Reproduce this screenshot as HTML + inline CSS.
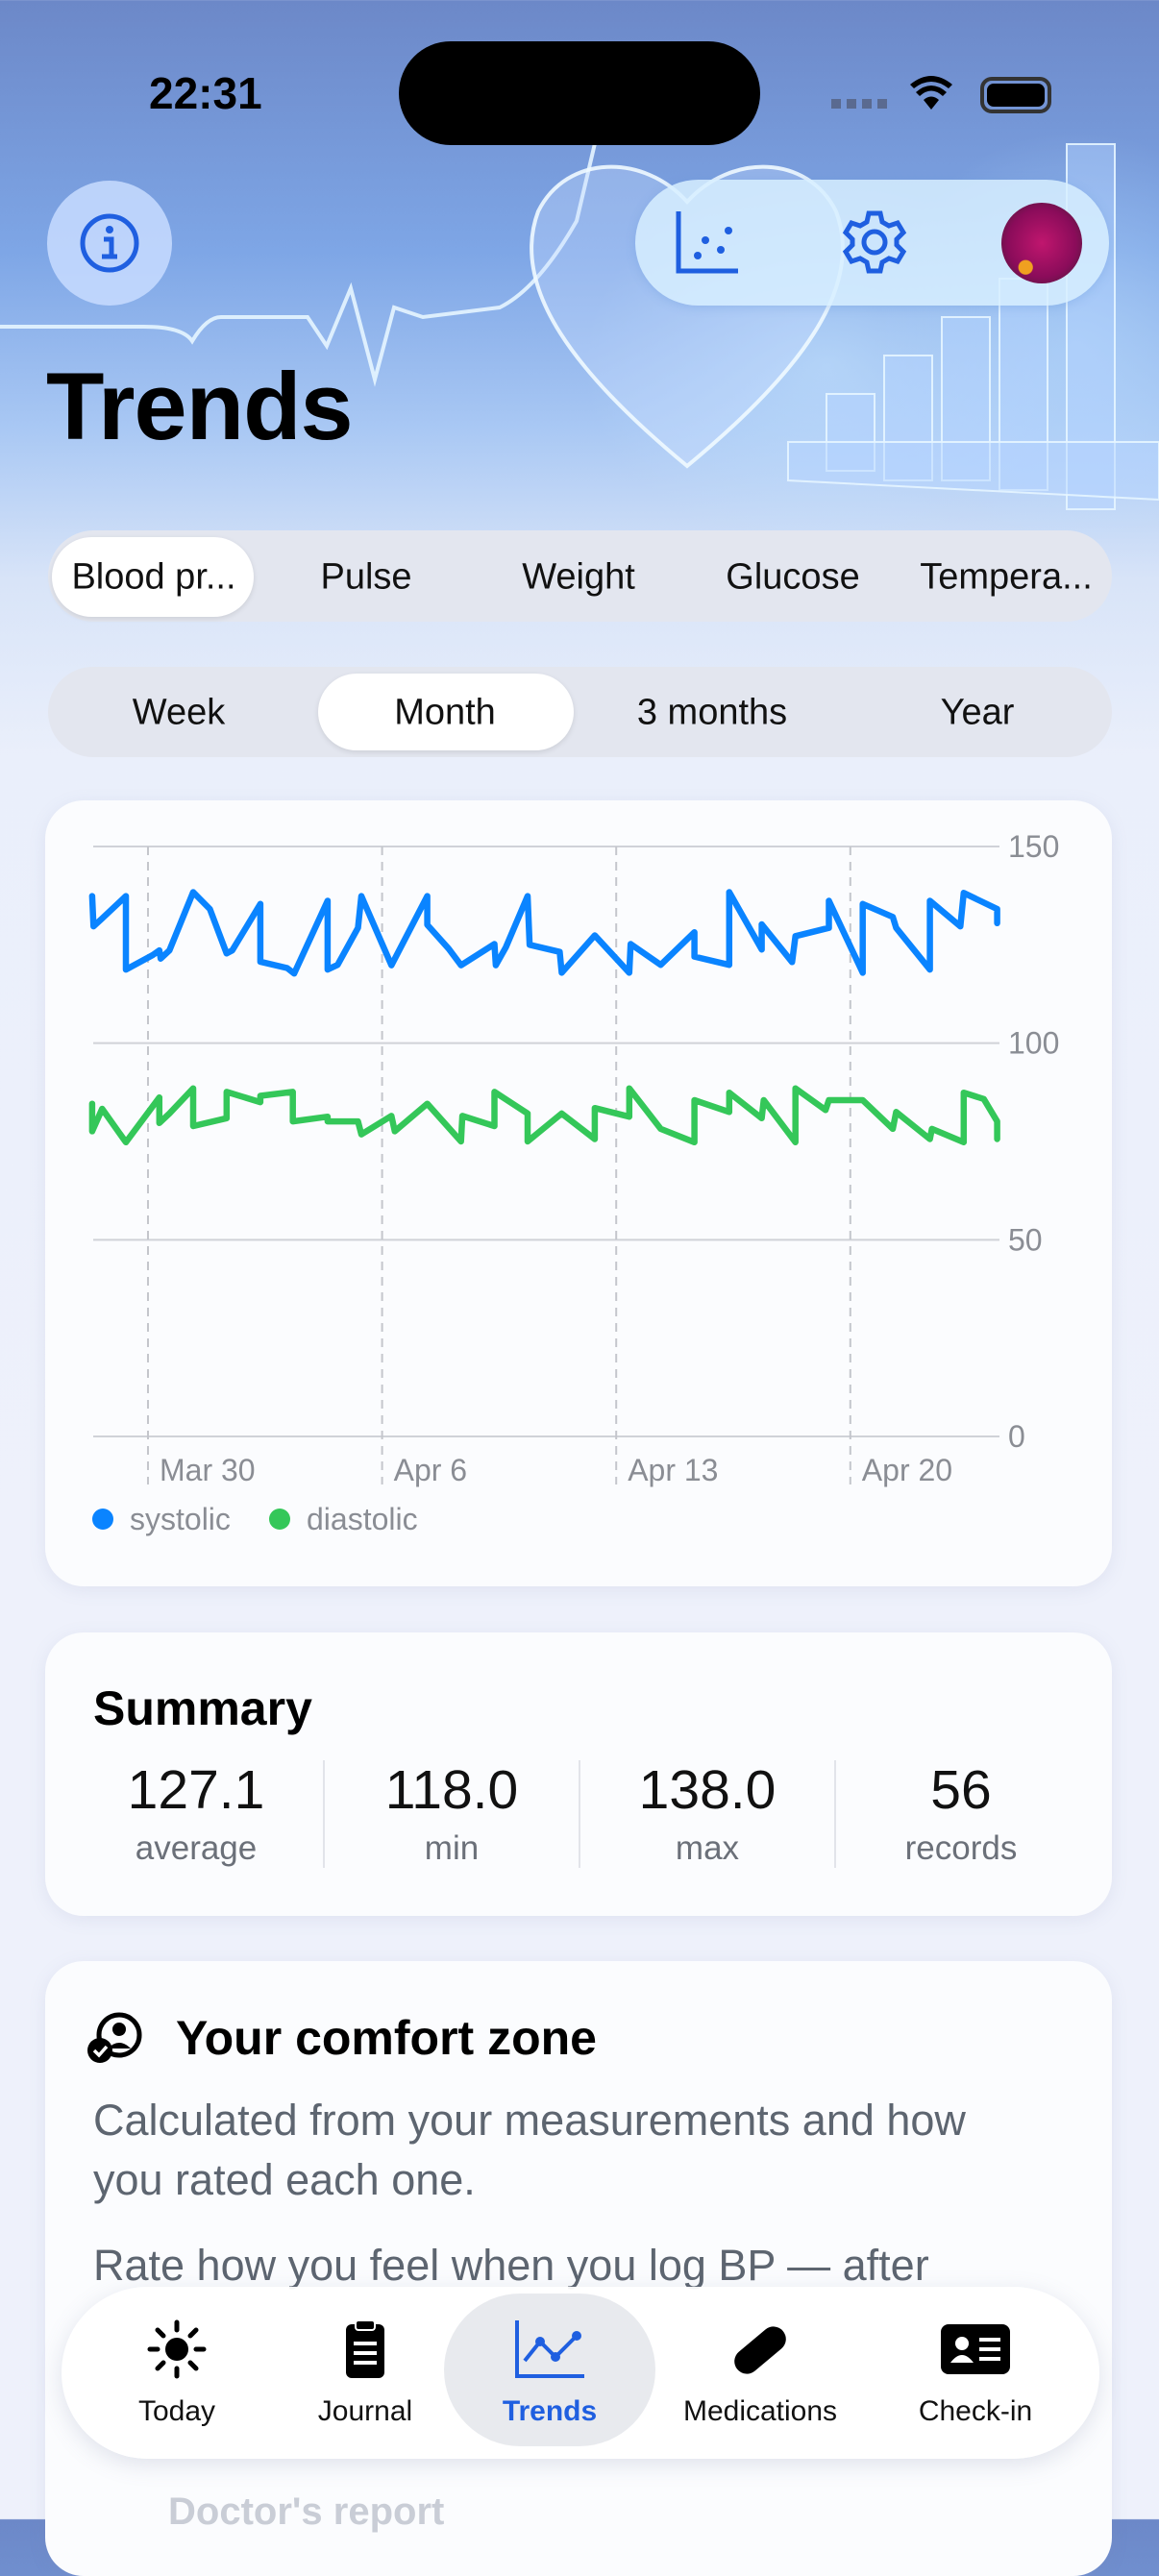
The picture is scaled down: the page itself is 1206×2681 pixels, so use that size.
<!DOCTYPE html>
<html><head><meta charset="utf-8">
<style>
*{box-sizing:border-box;margin:0;padding:0}
body{width:1206px;height:2622px;overflow:hidden;position:relative;font-family:"Liberation Sans",sans-serif;background:linear-gradient(180deg,#6c88c8 0%,#7ea6e6 10%,#a9c8f4 17%,#d8e4f8 23%,#eaeffb 30%,#eef1fb 60%,#eef1fb 100%)}
.abs{position:absolute}
.card{position:absolute;background:#fbfcfe;border-radius:40px;box-shadow:0 4px 18px rgba(120,130,170,.12)}
.seg{position:absolute;background:#e3e6ef;border-radius:48px}
.seglbl{position:absolute;transform:translate(-50%,-50%);font-size:38px;color:#111;white-space:nowrap}
.sel{position:absolute;background:#fff;border-radius:42px;box-shadow:0 2px 6px rgba(0,0,0,.1)}
.stat{position:absolute;transform:translateX(-50%);text-align:center}
.stat .v{font-size:57px;color:#111}
.stat .l{font-size:35px;color:#6b7079;margin-top:8px}
.div{position:absolute;width:2px;height:112px;background:#e2e4ea;top:1832px}
.tab{position:absolute;transform:translateX(-50%);text-align:center;font-size:30px;color:#111;top:2413px;width:200px}
.tab svg{display:block;margin:0 auto 16px}
</style></head><body>
<div class="abs" style="left:0;top:0;width:1206px;height:560px;background:radial-gradient(ellipse 360px 280px at 860px 380px,rgba(200,230,255,.55),rgba(200,230,255,0) 70%),radial-gradient(ellipse 300px 320px at 1120px 360px,rgba(190,225,255,.5),rgba(190,225,255,0) 70%)"></div>
<svg class="abs" style="left:0;top:0" width="1206" height="560">
<path d="M0 340 L150 340 Q190 340 200 355 Q215 330 230 330 L320 330 L340 360 L365 300 L390 395 L410 320 L440 330 L520 320 Q560 300 600 230 L640 60" fill="none" stroke="rgba(230,245,255,.9)" stroke-width="4"/>
<path d="M715 485 C600 390 530 300 560 220 C590 160 670 160 715 210 C760 160 840 160 870 220 C900 300 830 390 715 485Z" fill="rgba(200,220,255,.35)" stroke="rgba(240,250,255,.9)" stroke-width="4"/>
<g fill="rgba(180,210,255,.45)" stroke="rgba(230,245,255,.9)" stroke-width="2">
<rect x="860" y="410" width="50" height="80"/><rect x="920" y="370" width="50" height="130"/><rect x="980" y="330" width="50" height="170"/><rect x="1040" y="290" width="50" height="220"/><rect x="1110" y="150" width="50" height="380"/>
<path d="M820 460 L1206 460 L1206 520 L820 500Z"/></g>
</svg>
<div class="abs" style="left:155px;top:70px;font-size:46px;font-weight:bold;color:#000">22:31</div>
<div class="abs" style="left:415px;top:43px;width:376px;height:108px;border-radius:54px;background:#000"></div>
<div class="abs" style="left:865px;top:103px;width:60px;height:10px;background:repeating-linear-gradient(90deg,#5a6a90 0 10px,transparent 10px 16px)"></div>
<svg class="abs" style="left:945px;top:76px" width="48" height="40" viewBox="0 0 48 40"><path d="M24 38 L16 28 Q24 21 32 28Z M8 20 Q24 6 40 20 L36 24 Q24 13 12 24Z M2 12 Q24 -6 46 12 L42 16 Q24 2 6 16Z" fill="#000"/></svg>
<div class="abs" style="left:1020px;top:80px;width:74px;height:38px;border:4px solid #333;border-radius:12px;padding:3px"><div style="width:100%;height:100%;background:#000;border-radius:7px"></div></div>
<div class="abs" style="left:49px;top:188px;width:130px;height:130px;border-radius:65px;background:rgba(200,220,255,.85);display:flex;align-items:center;justify-content:center"><svg width="64" height="64" viewBox="0 0 64 64"><circle cx="32" cy="32" r="28" fill="none" stroke="#1f5fe0" stroke-width="5"/><circle cx="32" cy="18" r="4" fill="#1f5fe0"/><path d="M26 28h8v18M24 46h16" fill="none" stroke="#1f5fe0" stroke-width="5"/></svg></div>
<div class="abs" style="left:661px;top:187px;width:493px;height:131px;border-radius:66px;background:rgba(215,238,255,.85);box-shadow:0 2px 10px rgba(100,150,220,.3)"></div>
<svg class="abs" style="left:700px;top:216px" width="72" height="72" viewBox="0 0 72 72"><path d="M6 4V66H68" fill="none" stroke="#1f5fe0" stroke-width="5"/><circle cx="26" cy="50" r="4" fill="#1f5fe0"/><circle cx="34" cy="34" r="4" fill="#1f5fe0"/><circle cx="50" cy="44" r="4" fill="#1f5fe0"/><circle cx="58" cy="24" r="4" fill="#1f5fe0"/></svg>
<svg class="abs" style="left:874px;top:216px" width="72" height="72" viewBox="0 0 72 72"><g fill="none" stroke="#1f5fe0" stroke-width="5"><circle cx="36" cy="36" r="11"/><path d="M30 6h12l2 9 7 4 9-3 6 10-7 7v6l7 7-6 10-9-3-7 4-2 9H30l-2-9-7-4-9 3-6-10 7-7v-6l-7-7 6-10 9 3 7-4z"/></g></svg>
<div class="abs" style="left:1042px;top:211px;width:84px;height:84px;border-radius:42px;background:radial-gradient(circle at 30% 80%,#f0a020 0 8%,transparent 9%),radial-gradient(circle at 50% 50%,#c0166e,#8a0c5a 60%,#3a2030)"></div>
<div class="abs" style="left:48px;top:366px;font-size:99px;font-weight:bold;color:#000;letter-spacing:-1px">Trends</div>

<div class="seg" style="left:50px;top:552px;width:1107px;height:95px"></div>
<div class="sel" style="left:54px;top:559px;width:210px;height:83px"></div>
<div class="seglbl" style="left:160px;top:601px">Blood pr...</div>
<div class="seglbl" style="left:381px;top:601px">Pulse</div>
<div class="seglbl" style="left:602px;top:601px">Weight</div>
<div class="seglbl" style="left:825px;top:601px">Glucose</div>
<div class="seglbl" style="left:1047px;top:601px">Tempera...</div>

<div class="seg" style="left:50px;top:694px;width:1107px;height:94px"></div>
<div class="sel" style="left:331px;top:701px;width:266px;height:80px"></div>
<div class="seglbl" style="left:186px;top:742px">Week</div>
<div class="seglbl" style="left:463px;top:742px">Month</div>
<div class="seglbl" style="left:741px;top:742px">3 months</div>
<div class="seglbl" style="left:1017px;top:742px">Year</div>

<div class="card" style="left:47px;top:833px;width:1110px;height:818px"></div>
<svg id="chart" class="abs" style="left:0;top:0" width="1206" height="1700"></svg>

<div class="card" style="left:47px;top:1699px;width:1110px;height:295px"></div>
<div class="abs" style="left:97px;top:1749px;font-size:50px;font-weight:bold;color:#000">Summary</div>
<div class="stat" style="left:204px;top:1830px"><div class="v">127.1</div><div class="l">average</div></div>
<div class="div" style="left:336px"></div>
<div class="stat" style="left:470px;top:1830px"><div class="v">118.0</div><div class="l">min</div></div>
<div class="div" style="left:602px"></div>
<div class="stat" style="left:736px;top:1830px"><div class="v">138.0</div><div class="l">max</div></div>
<div class="div" style="left:868px"></div>
<div class="stat" style="left:1000px;top:1830px"><div class="v">56</div><div class="l">records</div></div>

<div class="card" style="left:47px;top:2041px;width:1110px;height:640px"></div>
<svg class="abs" style="left:88px;top:2094px" width="64" height="56" viewBox="0 0 64 56"><circle cx="36" cy="24" r="21" fill="none" stroke="#000" stroke-width="5"/><circle cx="36" cy="18" r="7" fill="#000"/><path d="M24 38 Q36 26 48 38" fill="#000"/><circle cx="16" cy="40" r="13" fill="#000"/><path d="M10 40l5 5 8-9" fill="none" stroke="#fff" stroke-width="3.5"/></svg>
<div class="abs" style="left:183px;top:2092px;font-size:50px;font-weight:bold;color:#000">Your comfort zone</div>
<div class="abs" style="left:97px;top:2176px;font-size:45px;line-height:62px;color:#5d6570;width:960px">Calculated from your measurements and how you rated each one.</div>
<div class="abs" style="left:97px;top:2332px;font-size:45px;color:#5d6570;white-space:nowrap">Rate how you feel when you log BP — after</div>
<div class="abs" style="left:175px;top:2592px;font-size:40px;font-weight:bold;color:#c9cdd6">Doctor's report</div>

<div class="abs" style="left:64px;top:2380px;width:1080px;height:179px;border-radius:90px;background:rgba(255,255,255,.93);box-shadow:0 6px 24px rgba(100,110,150,.18)"></div>
<div class="abs" style="left:462px;top:2387px;width:220px;height:159px;border-radius:80px;background:#e8eaee"></div>
<div class="tab" style="left:184px"><svg width="70" height="64" viewBox="0 0 70 64"><circle cx="35" cy="32" r="12" fill="#000"/><g stroke="#000" stroke-width="5" stroke-linecap="round"><path d="M35 4v8M35 52v8M7 32h8M55 32h8M15 12l6 6M49 46l6 6M15 52l6-6M49 18l6-6"/></g></svg>Today</div>
<div class="tab" style="left:380px"><svg width="70" height="64" viewBox="0 0 70 64"><rect x="15" y="6" width="40" height="56" rx="6" fill="#000"/><rect x="25" y="2" width="20" height="10" rx="3" fill="#000" stroke="#fff" stroke-width="2"/><path d="M23 26h24M23 36h24M23 46h24" stroke="#fff" stroke-width="4"/></svg>Journal</div>
<div class="tab" style="left:572px;color:#1f5fe0;font-weight:bold"><svg width="76" height="64" viewBox="0 0 76 64"><path d="M4 2V60H74" fill="none" stroke="#1f5fe0" stroke-width="4"/><path d="M12 44L28 24 44 40 66 18" fill="none" stroke="#1f5fe0" stroke-width="4"/><circle cx="28" cy="24" r="5" fill="#1f5fe0"/><circle cx="44" cy="40" r="5" fill="#1f5fe0"/><circle cx="66" cy="18" r="5" fill="#1f5fe0"/></svg>Trends</div>
<div class="tab" style="left:791px"><svg width="70" height="64" viewBox="0 0 70 64"><rect x="4" y="20" width="62" height="26" rx="13" fill="#000" transform="rotate(-40 35 33)"/></svg>Medications</div>
<div class="tab" style="left:1015px"><svg width="80" height="64" viewBox="0 0 80 64"><rect x="4" y="6" width="72" height="52" rx="8" fill="#000"/><circle cx="26" cy="26" r="7" fill="#fff"/><path d="M14 46q12-16 24 0z" fill="#fff"/><path d="M44 22h22M44 32h22M44 42h22" stroke="#fff" stroke-width="4"/></svg>Check-in</div>

<script>
const yTicks=[150,100,50,0];
const xTickDays=[0,7,14,21];
const xTickLabels=["Mar 30","Apr 6","Apr 13","Apr 20"];
const sysDays=[-1.67,-1.63,-1.37,-0.66,-0.66,0.14,0.34,0.38,0.64,1.35,1.85,2.35,2.52,3.36,3.36,4.16,4.37,5.37,5.37,5.67,6.28,6.38,7.28,8.35,8.35,8.99,9.36,10.36,10.40,10.70,11.35,11.41,12.31,12.37,13.36,14.39,14.43,15.33,16.34,16.34,17.38,17.38,18.35,18.35,19.26,19.36,20.36,20.36,21.37,21.37,22.27,22.37,23.38,23.38,24.29,24.39,25.39,25.39];
const sysVals=[137.4,129.7,131.7,137.4,118.7,122.4,123.6,121.5,123.6,138.4,134.1,122.8,123.6,135.4,120.7,119.1,117.7,136.2,118.7,119.9,129.3,137.4,119.8,137.4,130.1,124.0,119.8,125.2,119.8,124.4,137.4,125.0,123.2,117.9,127.4,117.9,125.2,119.9,128.2,122.0,119.9,138.4,123.8,130.2,120.6,127.2,129.3,136.2,117.9,135.4,132.1,129.3,118.7,136.2,129.7,138.2,134.1,130.5];
const diaDays=[-1.67,-1.67,-1.37,-0.66,0.34,0.34,0.64,1.35,1.35,2.35,2.35,3.36,3.36,4.33,4.33,5.37,5.37,6.28,6.38,7.28,7.38,8.35,9.36,9.40,10.36,10.36,11.35,11.35,12.37,13.36,13.36,14.39,14.39,15.33,16.34,16.34,17.38,17.38,18.35,18.41,19.36,19.36,20.26,20.36,21.37,22.27,22.37,23.38,23.44,24.39,24.39,24.99,25.39,25.39];
const diaVals=[84.6,77.6,83.3,74.8,86.2,79.7,82.1,88.5,78.9,80.9,87.6,85.0,86.6,87.6,80.1,81.3,80.1,80.1,76.8,81.5,77.6,84.6,75.0,81.5,78.9,87.6,82.1,75.0,82.1,75.6,83.5,81.3,88.5,78.2,74.8,85.5,82.5,87.4,80.9,85.5,74.8,88.5,83.0,85.5,85.5,78.2,82.5,75.6,78.2,74.8,87.4,85.8,80.1,75.6];
const NS="http://www.w3.org/2000/svg";
const svg=document.getElementById('chart');
const x0=97,x1=1040;
function xPix(d){return 154+d*(243.6/7);}
function yPix(v){return 1495-v*(614/150);}
function mk(tag,attrs){const e=document.createElementNS(NS,tag);for(const k in attrs)e.setAttribute(k,attrs[k]);svg.appendChild(e);return e;}
yTicks.forEach((t,i)=>{
 const l=mk('line',{x1:x0,x2:x1,y1:yPix(t),y2:yPix(t),stroke:'#d0d2d8','stroke-width':2});
 
 
 const tx=mk('text',{x:1049,y:yPix(t)+11,'font-size':32,fill:'#8a8d94','font-family':'Liberation Sans, sans-serif'});
 tx.textContent=t;
 
 
});
xTickDays.forEach((d,i)=>{
 const l=mk('line',{x1:xPix(d),x2:xPix(d),y1:yPix(150),y2:1545,stroke:'#c4c6cc','stroke-width':2,'stroke-dasharray':'9 7'});
 
 
 const tx=mk('text',{x:xPix(d)+12,y:1541,'font-size':32,fill:'#8a8d94','font-family':'Liberation Sans, sans-serif'});
 tx.textContent=xTickLabels[i];
 
 
});
function series(days,vals,color,name){
 const d=days.map((t,i)=>(i?'L':'M')+xPix(t).toFixed(1)+' '+yPix(vals[i]).toFixed(1)).join(' ');
 const p=mk('path',{d:d,fill:'none',stroke:color,'stroke-width':6.5,'stroke-linejoin':'round','stroke-linecap':'round'});
 
 
}
series(sysDays,sysVals,'#0a84ff','systolic-line');
series(diaDays,diaVals,'#34c759','diastolic-line');
const legend=[["systolic","#0a84ff",107],["diastolic","#34c759",291]];
legend.forEach(l=>{
 const c=mk('circle',{cx:l[2],cy:1581,r:11,fill:l[1]});
 
 
 const t=mk('text',{x:l[2]+28,y:1592,'font-size':32,fill:'#8a8d94','font-family':'Liberation Sans, sans-serif'});
 t.textContent=l[0];
 
 
});
</script>
</body></html>
